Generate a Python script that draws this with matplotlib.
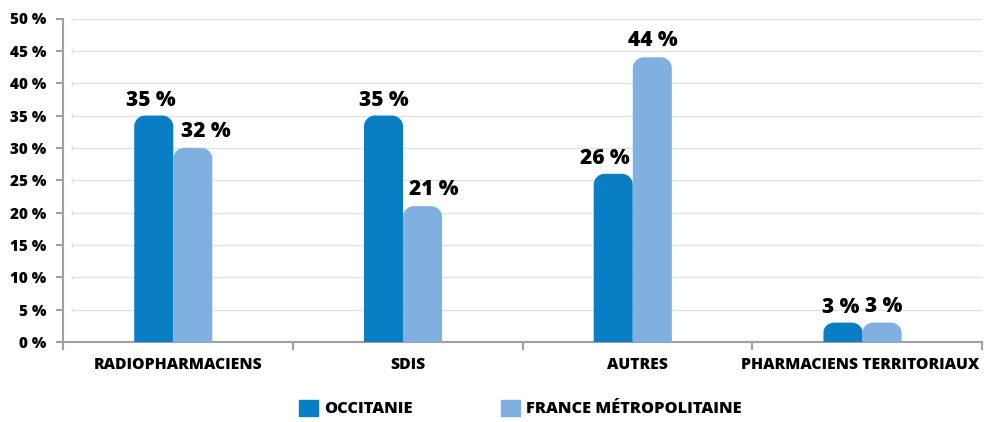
import numpy as np
import matplotlib
matplotlib.use("Agg")
import matplotlib.pyplot as plt
import matplotlib.transforms as mtransforms
from matplotlib.path import Path
from matplotlib.patches import PathPatch

categories = ["RADIOPHARMACIENS", "SDIS", "AUTRES", "PHARMACIENS TERRITORIAUX"]
occitanie = [35, 35, 26, 3]
france = [30, 21, 44, 3]
occitanie_labels = ["35 %", "35 %", "26 %", "3 %"]
france_labels = ["32 %", "21 %", "44 %", "3 %"]
series_names = ["OCCITANIE", "FRANCE MÉTROPOLITAINE"]
yticks = list(range(0, 51, 5))

C_OCC = "#0A7EC4"
C_FR = "#80B0DF"
C_AXIS = "#A0A0A0"
C_GRID = "#DCE3EA"
FONT = "Open Sans"
WT = "heavy"

W, H = 985, 422
fig = plt.figure(figsize=(W / 100, H / 100), dpi=100)
ax = fig.add_axes([63 / W, 80 / H, 919 / W, 323.5 / H])
ax.set_xlim(-0.5, 3.5)
ax.set_ylim(0, 50)

bw = 0.17
# corner radius in data units (~11 px each way)
rx = 11 / (919 / 4)
ry = 11 * 50 / 323.5


def rounded_bar(x0, w, h, color):
    r_x = min(rx, w / 2)
    r_y = min(ry, h / 2)
    k = 0.5523
    verts = [(x0, 0), (x0, h - r_y),
             (x0, h - r_y + k * r_y), (x0 + r_x - k * r_x, h), (x0 + r_x, h),
             (x0 + w - r_x, h),
             (x0 + w - r_x + k * r_x, h), (x0 + w, h - r_y + k * r_y), (x0 + w, h - r_y),
             (x0 + w, 0), (x0, 0)]
    codes = [Path.MOVETO, Path.LINETO,
             Path.CURVE4, Path.CURVE4, Path.CURVE4,
             Path.LINETO,
             Path.CURVE4, Path.CURVE4, Path.CURVE4,
             Path.LINETO, Path.CLOSEPOLY]
    ax.add_patch(PathPatch(Path(verts, codes), facecolor=color, edgecolor="none", zorder=3))


# grid lines (start slightly right of the axis)
for yv in yticks[1:]:
    ax.axhline(yv, xmin=9 / 919, xmax=1, color=C_GRID, lw=1.0, zorder=1)
    ax.plot([-0.5 + 9 / (919 / 4)] * 2, [yv - 0.25, yv + 0.25], color=C_GRID, lw=1.0, zorder=1)

# horizontal nudges of the value labels, in pixels
occ_dx = [-3, 0, -8, -2]
fr_dx = [13, 11, 1, 2]
PX = 0.72  # points per pixel at 100 dpi

x = np.arange(len(categories))
for i in x:
    rounded_bar(i - bw - 0.02, bw, occitanie[i], C_OCC)
    rounded_bar(i - 0.02, bw, france[i], C_FR)
    ax.annotate(occitanie_labels[i], (i - bw / 2 - 0.02, occitanie[i]),
                xytext=(occ_dx[i] * PX, 10 * PX), textcoords="offset points",
                ha="center", va="baseline", fontsize=15, fontweight=WT, family=FONT, color="black")
    ax.annotate(france_labels[i], (i + bw / 2 - 0.02, france[i]),
                xytext=(fr_dx[i] * PX, 11 * PX), textcoords="offset points",
                ha="center", va="baseline", fontsize=15, fontweight=WT, family=FONT, color="black")

for s in ["top", "right"]:
    ax.spines[s].set_visible(False)
for s in ["left", "bottom"]:
    ax.spines[s].set_color(C_AXIS)
    ax.spines[s].set_linewidth(1.5)

ax.set_yticks(yticks)
ax.set_yticklabels([f"{v} %" for v in yticks], fontsize=11, fontweight=WT, family=FONT)
ax.tick_params(axis="y", direction="out", length=5, width=1.5, color=C_AXIS, pad=7)

ax.set_xticks(x)
ax.set_xticklabels(categories, fontsize=11.3, fontweight=WT, family=FONT)
ax.set_xticks(np.arange(-0.5, 4.0, 1.0), minor=True)
ax.tick_params(axis="x", which="major", length=0, pad=11)
ax.tick_params(axis="x", which="minor", direction="out", length=6, width=1.5, color=C_AXIS)
last = ax.get_xticklabels()[-1]
last.set_transform(last.get_transform() + mtransforms.ScaledTranslation(-7 / 100, 0, fig.dpi_scale_trans))

# legend
handles = [plt.Rectangle((0, 0), 1, 1, color=C_OCC), plt.Rectangle((0, 0), 1, 1, color=C_FR)]
fig.legend(handles, series_names, loc="center", bbox_to_anchor=(520.5 / W, 1 - 408.5 / H), ncol=2,
           frameon=False, handlelength=1.16, handleheight=1.16, handletextpad=0.37, columnspacing=5.4,
           prop={"family": FONT, "weight": WT, "size": 11.8})

fig.savefig("out.png", dpi=100)
